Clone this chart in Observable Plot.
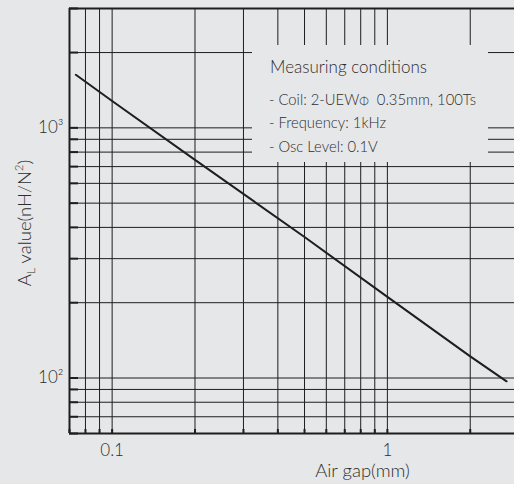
<!DOCTYPE html>
<html><head><meta charset="utf-8">
<script src="https://cdn.jsdelivr.net/npm/d3@7"></script>
<script src="https://cdn.jsdelivr.net/npm/@observablehq/plot@0.6"></script>
<style>
html,body{margin:0;padding:0;background:#e6e7e9;overflow:hidden}
#wrap{position:relative;width:514px;height:484px}
#legend{position:absolute;left:252px;top:45px;width:236px;height:117px;background:#e6e7e9;font-family:Lato,"Open Sans",sans-serif;font-weight:300;color:#2e2e2e}
#legend .t{position:absolute;left:18px;top:11px;font-size:17px;white-space:nowrap}
#legend .i{position:absolute;left:17px;font-size:14.8px;white-space:nowrap}
#legend .phi{font-size:0.8em}
svg text{font-weight:300}
</style></head>
<body><div id="wrap"></div>
<script>
// data
const airGap  = [0.0738, 0.1, 0.2, 0.5, 1, 2, 2.71];      // mm
const alValue = [1630, 1280, 745, 366, 211, 122, 97];     // nH/N^2
const xGrid = [0.07,0.08,0.09,0.1,0.2,0.3,0.4,0.5,0.6,0.7,0.8,0.9,1,2];
const yGrid = [60,70,80,90,100,200,300,400,500,600,700,800,900,1000,2000,3000];
const xTickValues = [0.1, 1];
const xTickLabels = ["0.1", "1"];
const yTickValues = [100, 1000];
const yTickLabels = ["10²", "10³"];
const xLabel = "Air gap(mm)";
const yLabel = "AL value(nH/N2)";
const legendTitle = "Measuring conditions";
const legendLines = ["- Coil: 2-UEW<span class='phi'>Φ</span>&nbsp; 0.35mm, 100Ts", "- Frequency: 1kHz", "- Osc Level: 0.1V"];

const data = airGap.map((x, i) => ({x, y: alValue[i]}));
const W = 514, H = 484, mL = 69, mT = 8, mB = 51;
const pxPerDecade = 275;
const xMax = Math.pow(10, (W - 387) / pxPerDecade);

const ink = "#1e1e1e", txt = "#2e2e2e";
const chart = Plot.plot({
  width: W, height: H,
  marginLeft: mL, marginRight: 0, marginTop: mT, marginBottom: mB,
  style: {background: "#e6e7e9", fontFamily: "Lato, 'Open Sans', sans-serif", color: txt, overflow: "visible"},
  x: {type: "log", domain: [0.07, xMax], axis: null},
  y: {type: "log", domain: [60, 3000], axis: null},
  marks: [
    Plot.ruleX(xGrid, {stroke: ink, strokeWidth: 1}),
    Plot.ruleY(yGrid, {stroke: ink, strokeWidth: 1}),
    Plot.ruleY([3000], {stroke: ink, strokeWidth: 2}),
    Plot.ruleX([0.07], {stroke: ink, strokeWidth: 2}),
    Plot.ruleY([60], {stroke: ink, strokeWidth: 2}),
    Plot.axisY(yGrid, {anchor: "left", tickSize: -9, strokeWidth: 2, stroke: ink, tickFormat: () => "", label: null}),
    Plot.axisX(xGrid, {anchor: "bottom", tickSize: -4, strokeWidth: 2, stroke: ink, tickFormat: () => "", label: null}),
    Plot.axisY(yTickValues, {anchor: "left", tickSize: 0, tickPadding: 6, fontSize: 17, fill: txt,
      tickFormat: d => yTickLabels[yTickValues.indexOf(d)], label: null}),
    Plot.axisX(xTickValues, {anchor: "bottom", tickSize: 0, tickPadding: 10, fontSize: 17, fill: txt,
      tickFormat: d => xTickLabels[xTickValues.indexOf(d)], label: null}),
    Plot.line(data, {x: "x", y: "y", stroke: ink, strokeWidth: 2}),
    Plot.text([xLabel], {frameAnchor: "bottom", textAnchor: "middle", dx: 70.5, dy: 38, fontSize: 18.5, fill: txt, lineAnchor: "middle"}),
    Plot.text([yLabel], {frameAnchor: "left", textAnchor: "middle", rotate: -90, dx: -44, dy: 2, fontSize: 18.5, fill: txt, lineAnchor: "middle", className: "ylab"})
  ]
});
document.getElementById("wrap").appendChild(chart);

// subscript L / superscript 2 in the y label
const yl = chart.querySelector(".ylab text");
if (yl) {
  yl.textContent = "";
  const ns = "http://www.w3.org/2000/svg";
  const parts = [["A", null, null], ["L", "12", "4"], [" value(nH/N", null, "-4"], ["2", "11", "-8"], [")", null, "8"]];
  for (const [s, fs, dy] of parts) {
    const t = document.createElementNS(ns, "tspan");
    t.textContent = s;
    if (fs) t.setAttribute("font-size", fs);
    if (dy) t.setAttribute("dy", dy);
    yl.appendChild(t);
  }
}

const lg = document.createElement("div");
lg.id = "legend";
let html = `<div class="t">${legendTitle}</div>`;
const tops = [45, 68, 92];
legendLines.forEach((s, i) => { html += `<div class="i" style="top:${tops[i]}px">${s}</div>`; });
lg.innerHTML = html;
document.getElementById("wrap").appendChild(lg);
</script>
</body></html>
